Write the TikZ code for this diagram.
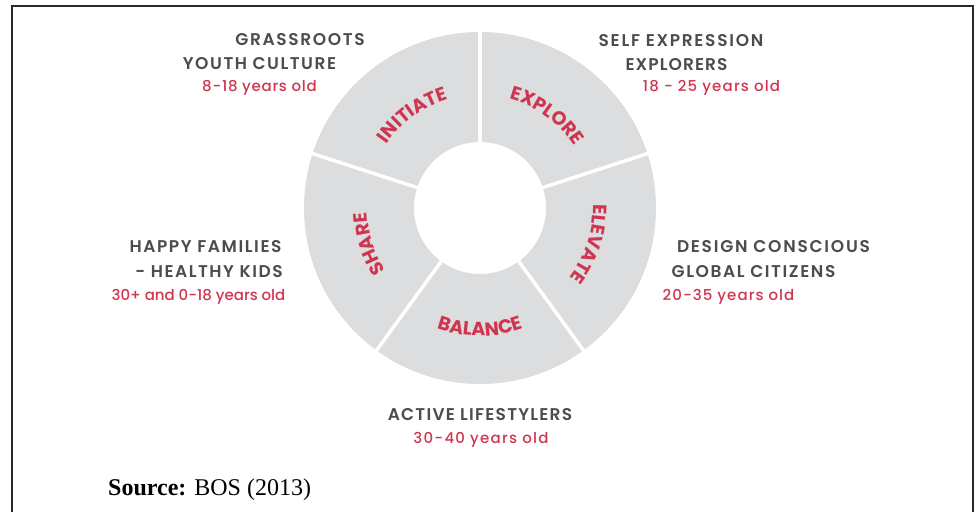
\documentclass[tikz,border=0pt]{standalone}
\usepackage{fontspec}
\usetikzlibrary{decorations.text,calc}
\setmainfont{Liberation Serif}
\newfontfamily\hdfont{Poppins SemiBold}
\newfontfamily\agefont{Poppins Medium}
\newfontfamily\arcfont{Poppins Bold}
\definecolor{ringgray}{HTML}{DCDDDF}
\definecolor{headgray}{HTML}{4C4C4E}
\definecolor{agered}{HTML}{D03550}
\definecolor{framegray}{HTML}{2A2A2A}
\tikzset{
  head/.style={anchor=base, inner sep=0pt, text=headgray,
      font=\hdfont\fontsize{17}{17}\selectfont\addfontfeature{LetterSpace=#1}},
  head/.default=9,
  age/.style={anchor=base, inner sep=0pt, text=agered,
      font=\agefont\fontsize{15}{15}\selectfont\addfontfeature{LetterSpace=#1}},
  age/.default=6,
  gap/.style={draw=white, line width=3.5pt},
  arclabel/.style={decorate, decoration={text along path, text align=center,
      text color=agered, text={|\arcfont\fontsize{19}{19}\selectfont|#1}}}
}
\begin{document}
\begin{tikzpicture}[x=1pt, y=1pt]
  \useasboundingbox (0,0) rectangle (976,512);
  % open frame: top, left and right sides
  \draw[framegray, line width=2pt] (12,0) -- (12,506) -- (973,506) -- (973,0);

  % ring
  \coordinate (c) at (480,304);
  \fill[ringgray, even odd rule] (c) circle[radius=176] (c) circle[radius=66];
  \foreach \a in {90,18,-54,-126,162}
    \draw[gap] ($(c)+(\a:64)$) -- ($(c)+(\a:178)$);

  % labels along the ring
  \path[arclabel=INITIATE]  ($(c)+(166:113)$) arc[start angle=166, end angle=86, radius=113];
  \path[arclabel=EXPLORE]   ($(c)+(94:113)$)  arc[start angle=94,  end angle=14, radius=113];
  \path[arclabel=ELEVATE]   ($(c)+(22:113)$)  arc[start angle=22,  end angle=-58, radius=113];
  \path[arclabel=SHARE]     ($(c)+(238:113)$) arc[start angle=238, end angle=158, radius=113];
  \path[arclabel=BALANCE]   ($(c)+(230:128)$) arc[start angle=230, end angle=310, radius=128];

  % segment captions
  \node[head=9.6]  (g1) at (300,466) {GRASSROOTS};
  \node[head=9]    (g2) at (259.5,442) {YOUTH CULTURE};
  \node[age=4.8]   (g3) at (259.5,420) {8-18 years old};

  \node[head=10]   (e1) at (681,465) {SELF EXPRESSION};
  \node[head=6.2]  (e2) at (676.5,441) {EXPLORERS};
  \node[age=7.8]   (e3) at (711.5,420) {18 - 25 years old};

  \node[head=9.3]  (h1) at (205.5,260) {HAPPY FAMILIES};
  \node[head=9]    (h2) at (209,235) {- HEALTHY KIDS};
  \node[age=0]     (h3) at (198.5,212) {30+ and 0-18 years old};

  \node[head=10.3] (d1) at (773.5,260) {DESIGN CONSCIOUS};
  \node[head=9.3]  (d2) at (753.5,235) {GLOBAL CITIZENS};
  \node[age=7.1]   (d3) at (728.5,212) {20-35 years old};

  \node[head=7.3]  (a1) at (480,92) {ACTIVE LIFESTYLERS};
  \node[age=8.4]   (a2) at (481,69) {30-40 years old};

  \node[anchor=base west, inner sep=0pt, font=\fontsize{24}{24}\selectfont] (src) at (108,17) {\textbf{Source:} BOS (2013)};
\end{tikzpicture}
\end{document}
